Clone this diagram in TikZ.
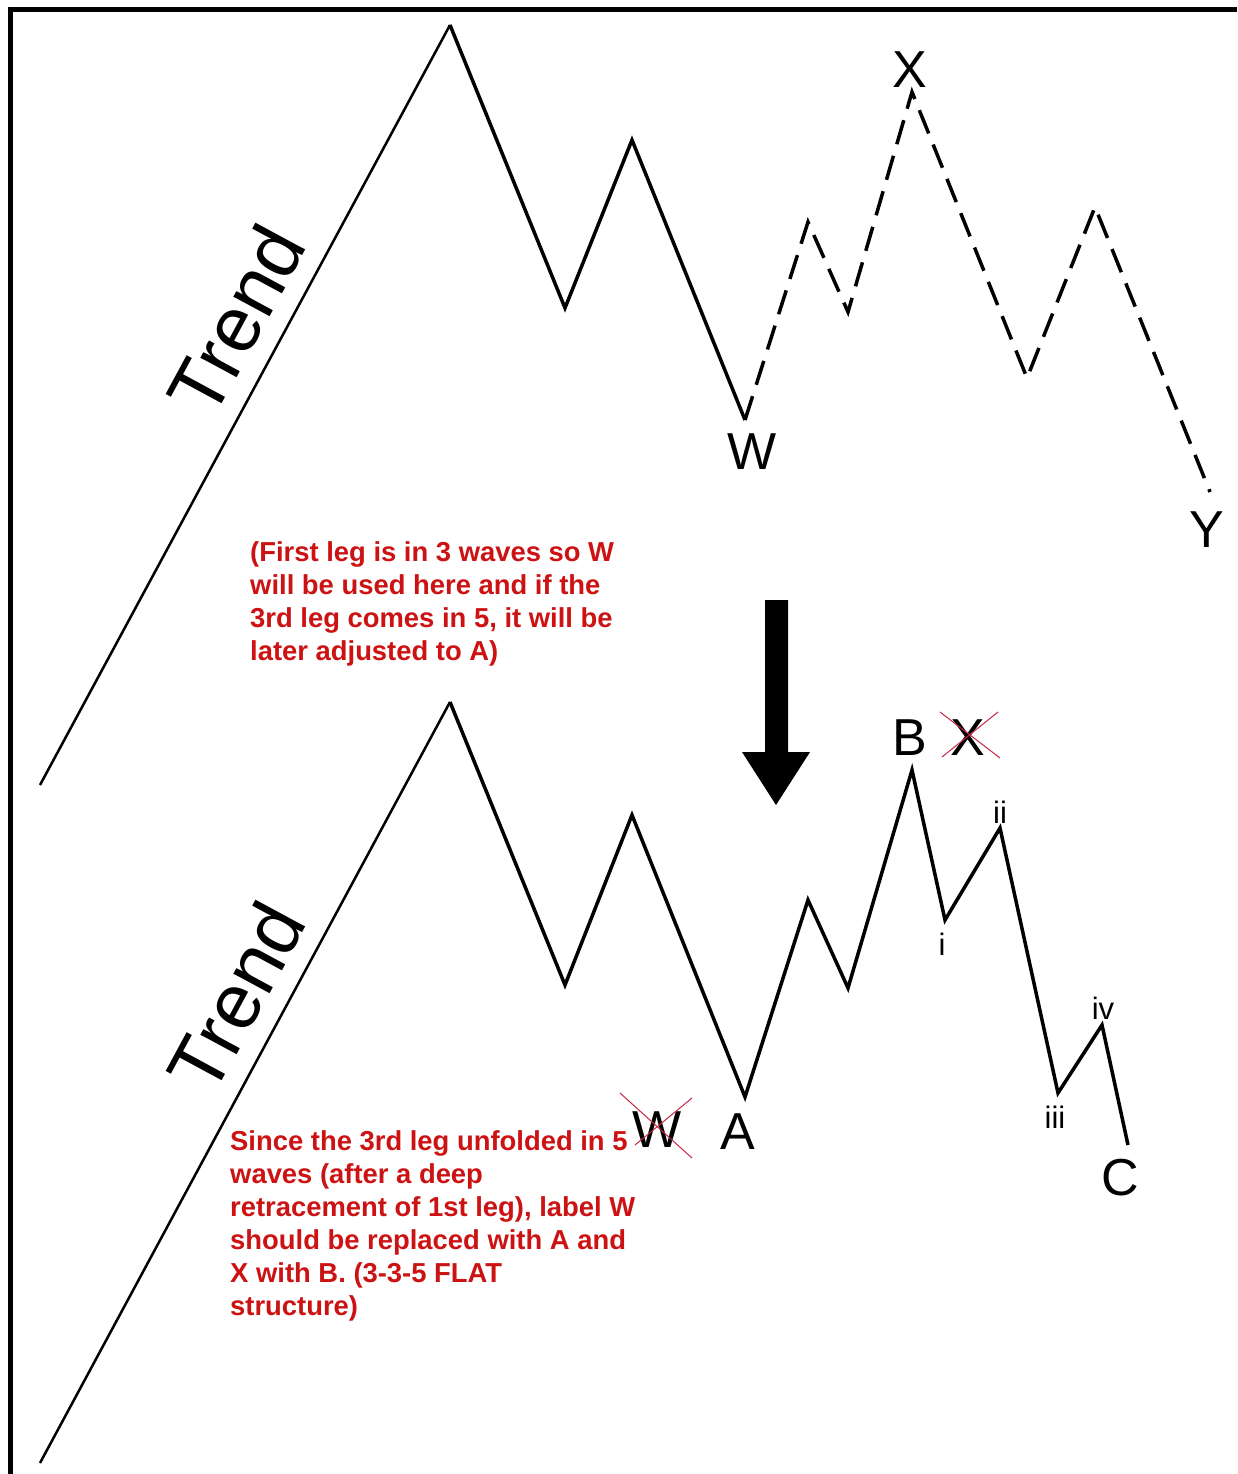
\documentclass[tikz,border=0pt]{standalone}
\usepackage{fontspec}
\setmainfont{Liberation Sans}
\definecolor{notered}{RGB}{204,18,18}
\definecolor{crossred}{RGB}{200,40,70}
\begin{document}
\begin{tikzpicture}[x=1pt,y=-1pt,
  wave/.style={line width=3.5pt,line join=miter,line cap=butt},
  trendleg/.style={line width=2.5pt},
  dashwave/.style={line width=3.5pt,dash pattern=on 25pt off 12pt},
  biglbl/.style={font=\fontsize{52}{52}\selectfont,inner sep=0pt},
  smalllbl/.style={font=\fontsize{31}{31}\selectfont,inner sep=0pt},
  trendlbl/.style={font=\fontsize{78}{78}\selectfont,rotate=61.6,inner sep=0pt},
  notetxt/.style={font=\fontsize{27.4}{33}\bfseries\selectfont,text=notered,align=left,inner sep=0pt,anchor=north west},
  crossline/.style={crossred,line width=1pt}]
\useasboundingbox (0,0) rectangle (1237,1474);
\fill[white] (0,0) rectangle (1237,1474);
% frame
\draw[line width=5pt] (10,1474) -- (10,10) -- (1237,10);

% top chart
\coordinate (a0) at (40,785);
\coordinate (a1) at (450,25);
\coordinate (a2) at (565,308);
\coordinate (a3) at (632,140);
\coordinate (a4) at (745,420);
\coordinate (a5) at (808,222);
\coordinate (a6) at (848,312);
\coordinate (a7) at (912,92);
\coordinate (a8) at (1027,378);
\coordinate (a9) at (1095,207);
\coordinate (a10) at (1210,492);
\draw[trendleg] (a0) -- (a1);
\draw[wave] (a1) -- (a2) -- (a3) -- (a4);
\draw[dashwave] (a4) -- (a5) -- (a6) -- (a7) -- (a8) -- (a9) -- (a10);

\node[trendlbl] (trend1) at (236,320) {Trend};
\node[biglbl] (lx) at (910,70) {X};
\node[biglbl] (lw) at (752,452) {W};
\node[biglbl] (ly) at (1207,530) {Y};

\node[notetxt] (note1) at (250,541) {(First leg is in 3 waves so W\\will be used here and if the\\3rd leg comes in 5, it will be\\later adjusted to A)};

% arrow
\fill (765,600) -- (788,600) -- (788,752) -- (810,752) -- (776,805) -- (742,752) -- (765,752) -- cycle;

% bottom chart
\coordinate (b0) at (40,1463);
\coordinate (b1) at (450,702);
\coordinate (b2) at (565,985);
\coordinate (b3) at (632,815);
\coordinate (b4) at (745,1097);
\coordinate (b5) at (808,900);
\coordinate (b6) at (848,988);
\coordinate (b7) at (912,770);
\coordinate (b8) at (945,920);
\coordinate (b9) at (1000,828);
\coordinate (b10) at (1058,1093);
\coordinate (b11) at (1102,1025);
\coordinate (b12) at (1128,1145);
\draw[trendleg] (b0) -- (b1);
\draw[wave] (b1) -- (b2) -- (b3) -- (b4) -- (b5) -- (b6) -- (b7) -- (b8) -- (b9) -- (b10) -- (b11) -- (b12);

\node[trendlbl] (trend2) at (236,997) {Trend};
\node[biglbl] (lb) at (910,738) {B};
\node[biglbl] (lxold) at (968,738) {X};
\node[biglbl] (la) at (738,1132) {A};
\node[biglbl] (lwold) at (657,1130) {W};
\node[biglbl] (lc) at (1120,1178) {C};
\node[smalllbl] (li) at (942,944) {i};
\node[smalllbl] (lii) at (1000,812) {ii};
\node[smalllbl] (liii) at (1055,1117) {iii};
\node[smalllbl] (liv) at (1103,1008) {iv};

\draw[crossline] ([shift={(-37,-37)}]lwold.center) -- ([shift={(35,28)}]lwold.center);
\draw[crossline] ([shift={(35,-32)}]lwold.center) -- ([shift={(-22,15)}]lwold.center);
\draw[crossline] ([shift={(-28,-26)}]lxold.center) -- ([shift={(32,20)}]lxold.center);
\draw[crossline] ([shift={(30,-26)}]lxold.center) -- ([shift={(-26,19)}]lxold.center);

\node[notetxt] (note2) at (230,1130) {Since the 3rd leg unfolded in 5\\waves (after a deep\\retracement of 1st leg), label W\\should be replaced with A and\\X with B. (3-3-5 FLAT\\structure)};
\end{tikzpicture}
\end{document}
